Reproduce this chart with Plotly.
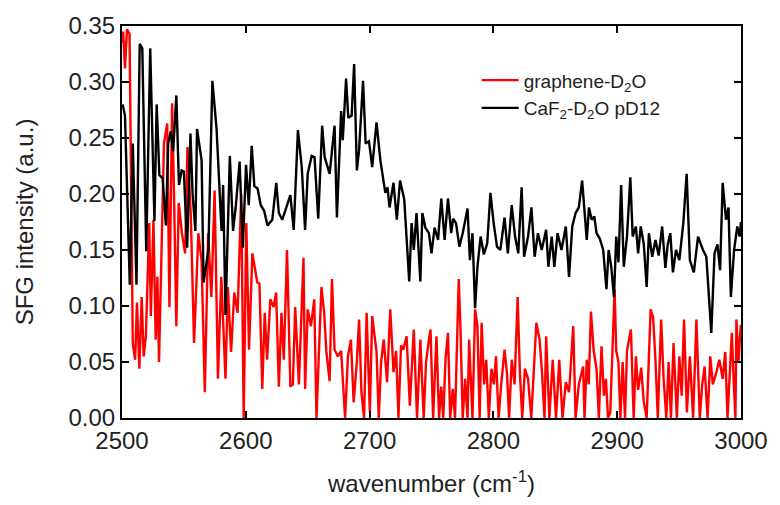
import plotly.graph_objects as go

# CaF2-D2O pD12 (black)
black_wn = [2500.5, 2502.4, 2506.3, 2508.7, 2511.7, 2514.3, 2516.4, 2519.6, 2522.8, 2526.2,
            2528.0, 2530.2, 2532.8, 2535.5, 2537.3, 2539.4, 2541.3, 2543.9, 2546.0, 2548.2,
            2550.0, 2552.6, 2555.3, 2557.0, 2559.3, 2560.6, 2564.3, 2565.9, 2569.8, 2573.0,
            2576.4, 2580.4, 2581.7, 2583.6, 2587.1, 2589.7, 2592.0, 2595.0, 2597.6, 2600.2,
            2602.4, 2604.8, 2606.9, 2609.5, 2612.1, 2614.8, 2617.5, 2621.4, 2624.6, 2626.7,
            2629.4, 2632.0, 2636.0, 2638.7, 2642.1, 2645.2, 2647.9, 2650.0, 2653.2, 2655.5,
            2658.5, 2661.7, 2663.7, 2667.7, 2671.7, 2673.6, 2677.0, 2678.3, 2681.0, 2682.8,
            2685.5, 2687.5, 2689.7, 2691.5, 2694.7, 2696.8, 2699.5, 2702.1, 2705.6, 2708.7,
            2712.7, 2714.5, 2716.1, 2719.3, 2722.0, 2724.6, 2728.0, 2732.0, 2733.9, 2735.7,
            2737.9, 2741.0, 2742.6, 2745.0, 2747.9, 2750.0, 2752.5, 2755.3, 2757.9, 2760.6,
            2763.3, 2765.9, 2767.5, 2769.8, 2772.5, 2775.2, 2779.1, 2781.0, 2783.1, 2785.2,
            2787.1, 2789.7, 2792.3, 2795.0, 2797.6, 2800.2, 2802.9, 2805.6, 2809.0, 2811.7,
            2814.8, 2817.5, 2820.1, 2822.8, 2824.8, 2828.0, 2830.7, 2833.3, 2836.0, 2839.0,
            2842.6, 2844.4, 2847.1, 2849.2, 2851.8, 2855.0, 2858.5, 2861.1, 2863.7, 2866.4,
            2869.0, 2871.7, 2875.4, 2877.2, 2879.4, 2881.5, 2883.3, 2886.0, 2888.7, 2891.3,
            2893.1, 2895.2, 2897.4, 2899.2, 2901.0, 2903.2, 2905.3, 2907.9, 2910.6, 2912.5,
            2915.1, 2916.9, 2919.0, 2921.5, 2923.8, 2925.6, 2928.3, 2930.9, 2933.5, 2936.3,
            2938.9, 2940.8, 2942.9, 2945.0, 2947.5, 2950.2, 2953.4, 2956.1, 2958.7, 2961.9,
            2965.3, 2969.3, 2972.0, 2976.0, 2978.6, 2981.0, 2983.1, 2985.2, 2987.9, 2989.9,
            2991.8, 2994.4, 2997.0, 2998.9, 3000.0]
black_val = [0.280, 0.270, 0.119, 0.245, 0.119, 0.334, 0.330, 0.149, 0.330, 0.176,
             0.280, 0.217, 0.214, 0.172, 0.245, 0.256, 0.238, 0.288, 0.208, 0.221,
             0.220, 0.152, 0.254, 0.200, 0.167, 0.258, 0.230, 0.121, 0.150, 0.301,
             0.258, 0.167, 0.208, 0.092, 0.234, 0.167, 0.190, 0.229, 0.152, 0.226,
             0.190, 0.243, 0.207, 0.205, 0.190, 0.185, 0.172, 0.177, 0.210, 0.183,
             0.177, 0.186, 0.199, 0.168, 0.257, 0.224, 0.168, 0.218, 0.234, 0.233,
             0.178, 0.261, 0.233, 0.218, 0.261, 0.179, 0.274, 0.248, 0.303, 0.268,
             0.270, 0.316, 0.221, 0.239, 0.301, 0.245, 0.247, 0.224, 0.264, 0.230,
             0.201, 0.206, 0.188, 0.210, 0.177, 0.212, 0.195, 0.122, 0.174, 0.150,
             0.183, 0.122, 0.183, 0.170, 0.165, 0.147, 0.170, 0.159, 0.196, 0.159,
             0.196, 0.165, 0.178, 0.174, 0.153, 0.165, 0.187, 0.141, 0.165, 0.098,
             0.135, 0.162, 0.146, 0.156, 0.201, 0.174, 0.153, 0.150, 0.179, 0.147,
             0.190, 0.162, 0.147, 0.206, 0.144, 0.162, 0.188, 0.144, 0.165, 0.150,
             0.168, 0.135, 0.162, 0.135, 0.165, 0.150, 0.171, 0.126, 0.171, 0.183,
             0.188, 0.212, 0.159, 0.188, 0.177, 0.180, 0.165, 0.160, 0.150, 0.115,
             0.150, 0.135, 0.108, 0.162, 0.139, 0.208, 0.135, 0.162, 0.215, 0.162,
             0.171, 0.147, 0.171, 0.155, 0.117, 0.165, 0.144, 0.159, 0.145, 0.171,
             0.134, 0.155, 0.165, 0.130, 0.150, 0.141, 0.174, 0.218, 0.141, 0.130,
             0.162, 0.150, 0.144, 0.076, 0.147, 0.155, 0.132, 0.210, 0.177, 0.188,
             0.108, 0.150, 0.171, 0.162, 0.175]

# graphene-D2O (red)
red_wn = [2500.0, 2501.0, 2502.4, 2504.0, 2506.1, 2508.7, 2510.6, 2512.1, 2514.0, 2515.9,
          2517.5, 2519.3, 2522.0, 2523.3, 2525.4, 2527.2, 2528.6, 2529.9, 2533.9, 2536.5,
          2538.3, 2540.5, 2542.0, 2543.9, 2545.8, 2548.4, 2551.0, 2552.9, 2555.6, 2558.2,
          2561.7, 2564.3, 2566.9, 2569.6, 2572.2, 2574.8, 2577.5, 2580.2, 2583.6, 2585.5,
          2588.1, 2590.7, 2593.4, 2596.3, 2598.3, 2600.4, 2602.6, 2605.3, 2609.3, 2611.0,
          2613.3, 2615.3, 2617.2, 2619.8, 2622.5, 2624.5, 2626.7, 2628.8, 2630.7, 2633.3,
          2636.0, 2638.0, 2639.9, 2642.9, 2646.6, 2647.9, 2650.0, 2652.6, 2655.3, 2657.1,
          2659.1, 2661.1, 2663.3, 2665.1, 2667.7, 2669.6, 2671.7, 2674.4, 2677.0, 2680.2,
          2682.5, 2684.9, 2687.1, 2689.7, 2691.5, 2693.4, 2695.5, 2697.6, 2700.2, 2702.1,
          2705.6, 2707.4, 2709.3, 2711.4, 2714.1, 2716.7, 2719.3, 2721.4, 2723.3, 2725.4,
          2727.2, 2729.9, 2732.5, 2735.7, 2738.3, 2741.0, 2743.7, 2745.6, 2747.9, 2749.2,
          2751.3, 2754.0, 2756.1, 2757.9, 2759.5, 2761.3, 2763.3, 2765.1, 2767.2, 2769.0,
          2772.0, 2773.4, 2775.2, 2777.2, 2779.1, 2780.4, 2783.1, 2785.2, 2787.1, 2788.9,
          2790.5, 2792.5, 2794.2, 2796.3, 2798.4, 2800.4, 2802.1, 2804.2, 2806.3, 2809.0,
          2810.9, 2812.7, 2814.8, 2817.1, 2819.6, 2821.4, 2823.3, 2825.4, 2828.0, 2830.6,
          2834.7, 2837.3, 2839.3, 2841.3, 2842.6, 2845.2, 2847.9, 2850.6, 2853.2, 2855.8,
          2858.5, 2861.1, 2864.5, 2866.4, 2869.0, 2872.5, 2873.6, 2875.4, 2877.0, 2878.8,
          2881.0, 2883.3, 2885.2, 2887.3, 2889.3, 2890.9, 2892.6, 2894.4, 2897.9, 2899.2,
          2901.0, 2902.6, 2904.4, 2906.3, 2907.9, 2911.1, 2913.3, 2915.1, 2916.9, 2919.4,
          2921.4, 2923.8, 2927.0, 2929.0, 2930.9, 2932.8, 2935.5, 2937.5, 2939.7, 2941.5,
          2943.4, 2945.5, 2948.2, 2950.2, 2952.1, 2954.0, 2956.3, 2958.7, 2961.3, 2964.0,
          2966.7, 2968.7, 2970.6, 2973.0, 2975.2, 2977.2, 2979.9, 2982.5, 2985.2, 2987.3,
          2989.1, 2991.0, 2992.6, 2994.2, 2995.5, 2996.3, 2998.0, 2999.8]
red_val = [0.335, 0.345, 0.312, 0.347, 0.343, 0.067, 0.052, 0.103, 0.044, 0.108,
           0.055, 0.073, 0.174, 0.091, 0.177, 0.070, 0.126, 0.050, 0.245, 0.263,
           0.099, 0.281, 0.200, 0.082, 0.192, 0.165, 0.147, 0.242, 0.180, 0.067,
           0.165, 0.140, 0.023, 0.165, 0.108, 0.203, 0.035, 0.126, 0.035, 0.117,
           0.059, 0.112, 0.094, 0.200, 0.000, 0.174, 0.061, 0.147, 0.121, 0.120,
           0.026, 0.094, 0.052, 0.106, 0.099, 0.112, 0.028, 0.094, 0.052, 0.150,
           0.028, 0.030, 0.099, 0.030, 0.143, 0.026, 0.097, 0.082, 0.106, 0.000,
           0.060, 0.117, 0.094, 0.059, 0.033, 0.124, 0.061, 0.055, 0.060, 0.000,
           0.055, 0.070, 0.014, 0.050, 0.088, 0.023, 0.000, 0.094, 0.005, 0.091,
           0.059, 0.000, 0.050, 0.070, 0.032, 0.097, 0.041, 0.060, 0.000, 0.065,
           0.061, 0.073, 0.011, 0.079, 0.000, 0.070, 0.000, 0.050, 0.070, 0.079,
           0.000, 0.073, 0.000, 0.028, 0.000, 0.052, 0.076, 0.000, 0.026, 0.000,
           0.124, 0.080, 0.000, 0.035, 0.000, 0.070, 0.000, 0.097, 0.082, 0.000,
           0.085, 0.030, 0.052, 0.000, 0.044, 0.030, 0.055, 0.000, 0.030, 0.061,
           0.041, 0.000, 0.052, 0.030, 0.108, 0.040, 0.000, 0.044, 0.035, 0.000,
           0.085, 0.070, 0.040, 0.000, 0.073, 0.000, 0.052, 0.000, 0.052, 0.000,
           0.032, 0.023, 0.082, 0.000, 0.030, 0.046, 0.000, 0.052, 0.030, 0.095,
           0.060, 0.044, 0.000, 0.064, 0.020, 0.035, 0.000, 0.005, 0.115, 0.060,
           0.050, 0.000, 0.050, 0.000, 0.060, 0.079, 0.000, 0.055, 0.025, 0.045,
           0.015, 0.000, 0.097, 0.090, 0.052, 0.000, 0.088, 0.035, 0.000, 0.050,
           0.000, 0.067, 0.000, 0.055, 0.020, 0.088, 0.005, 0.055, 0.000, 0.088,
           0.000, 0.030, 0.046, 0.000, 0.055, 0.030, 0.040, 0.052, 0.035, 0.059,
           0.000, 0.046, 0.076, 0.030, 0.000, 0.088, 0.050, 0.083]

y_ticks = [0.00, 0.05, 0.10, 0.15, 0.20, 0.25, 0.30, 0.35]
x_ticks = [2500, 2600, 2700, 2800, 2900, 3000]

FONT = "Arial, Liberation Sans, sans-serif"

fig = go.Figure()
fig.add_trace(go.Scatter(x=red_wn, y=red_val, mode="lines", name="graphene-D<sub>2</sub>O",
                         line=dict(color="#ff0000", width=2.4)))
fig.add_trace(go.Scatter(x=black_wn, y=black_val, mode="lines", name="CaF<sub>2</sub>-D<sub>2</sub>O pD12",
                         line=dict(color="#000000", width=2.4)))

axis_common = dict(showline=True, linecolor="black", linewidth=2, mirror="ticks",
                   ticks="inside", ticklen=7, tickwidth=1.5, tickcolor="black",
                   showgrid=False, zeroline=False,
                   tickfont=dict(family=FONT, size=24, color="#222"))

fig.update_xaxes(range=[2500, 3000], tickvals=x_ticks, ticktext=[str(v) for v in x_ticks],
                 title=dict(text="wavenumber (cm<sup>-1</sup>)", font=dict(family=FONT, size=24, color="#222"),
                            standoff=22),
                 **axis_common)
fig.update_yaxes(range=[0, 0.35], tickvals=y_ticks, ticktext=[f"{v:.2f}" for v in y_ticks],
                 title=dict(text="SFG intensity (a.u.)", font=dict(family=FONT, size=24, color="#222"),
                            standoff=28),
                 **axis_common)

fig.update_layout(
    width=780, height=505,
    margin=dict(l=122, r=30, t=25, b=82),
    paper_bgcolor="white", plot_bgcolor="white",
    showlegend=True,
    legend=dict(x=0.573, y=0.91, xanchor="left", yanchor="top",
                font=dict(family=FONT, size=19, color="#222"),
                bgcolor="rgba(0,0,0,0)", itemwidth=37, tracegroupgap=0),
)

fig.write_html("out.html")
